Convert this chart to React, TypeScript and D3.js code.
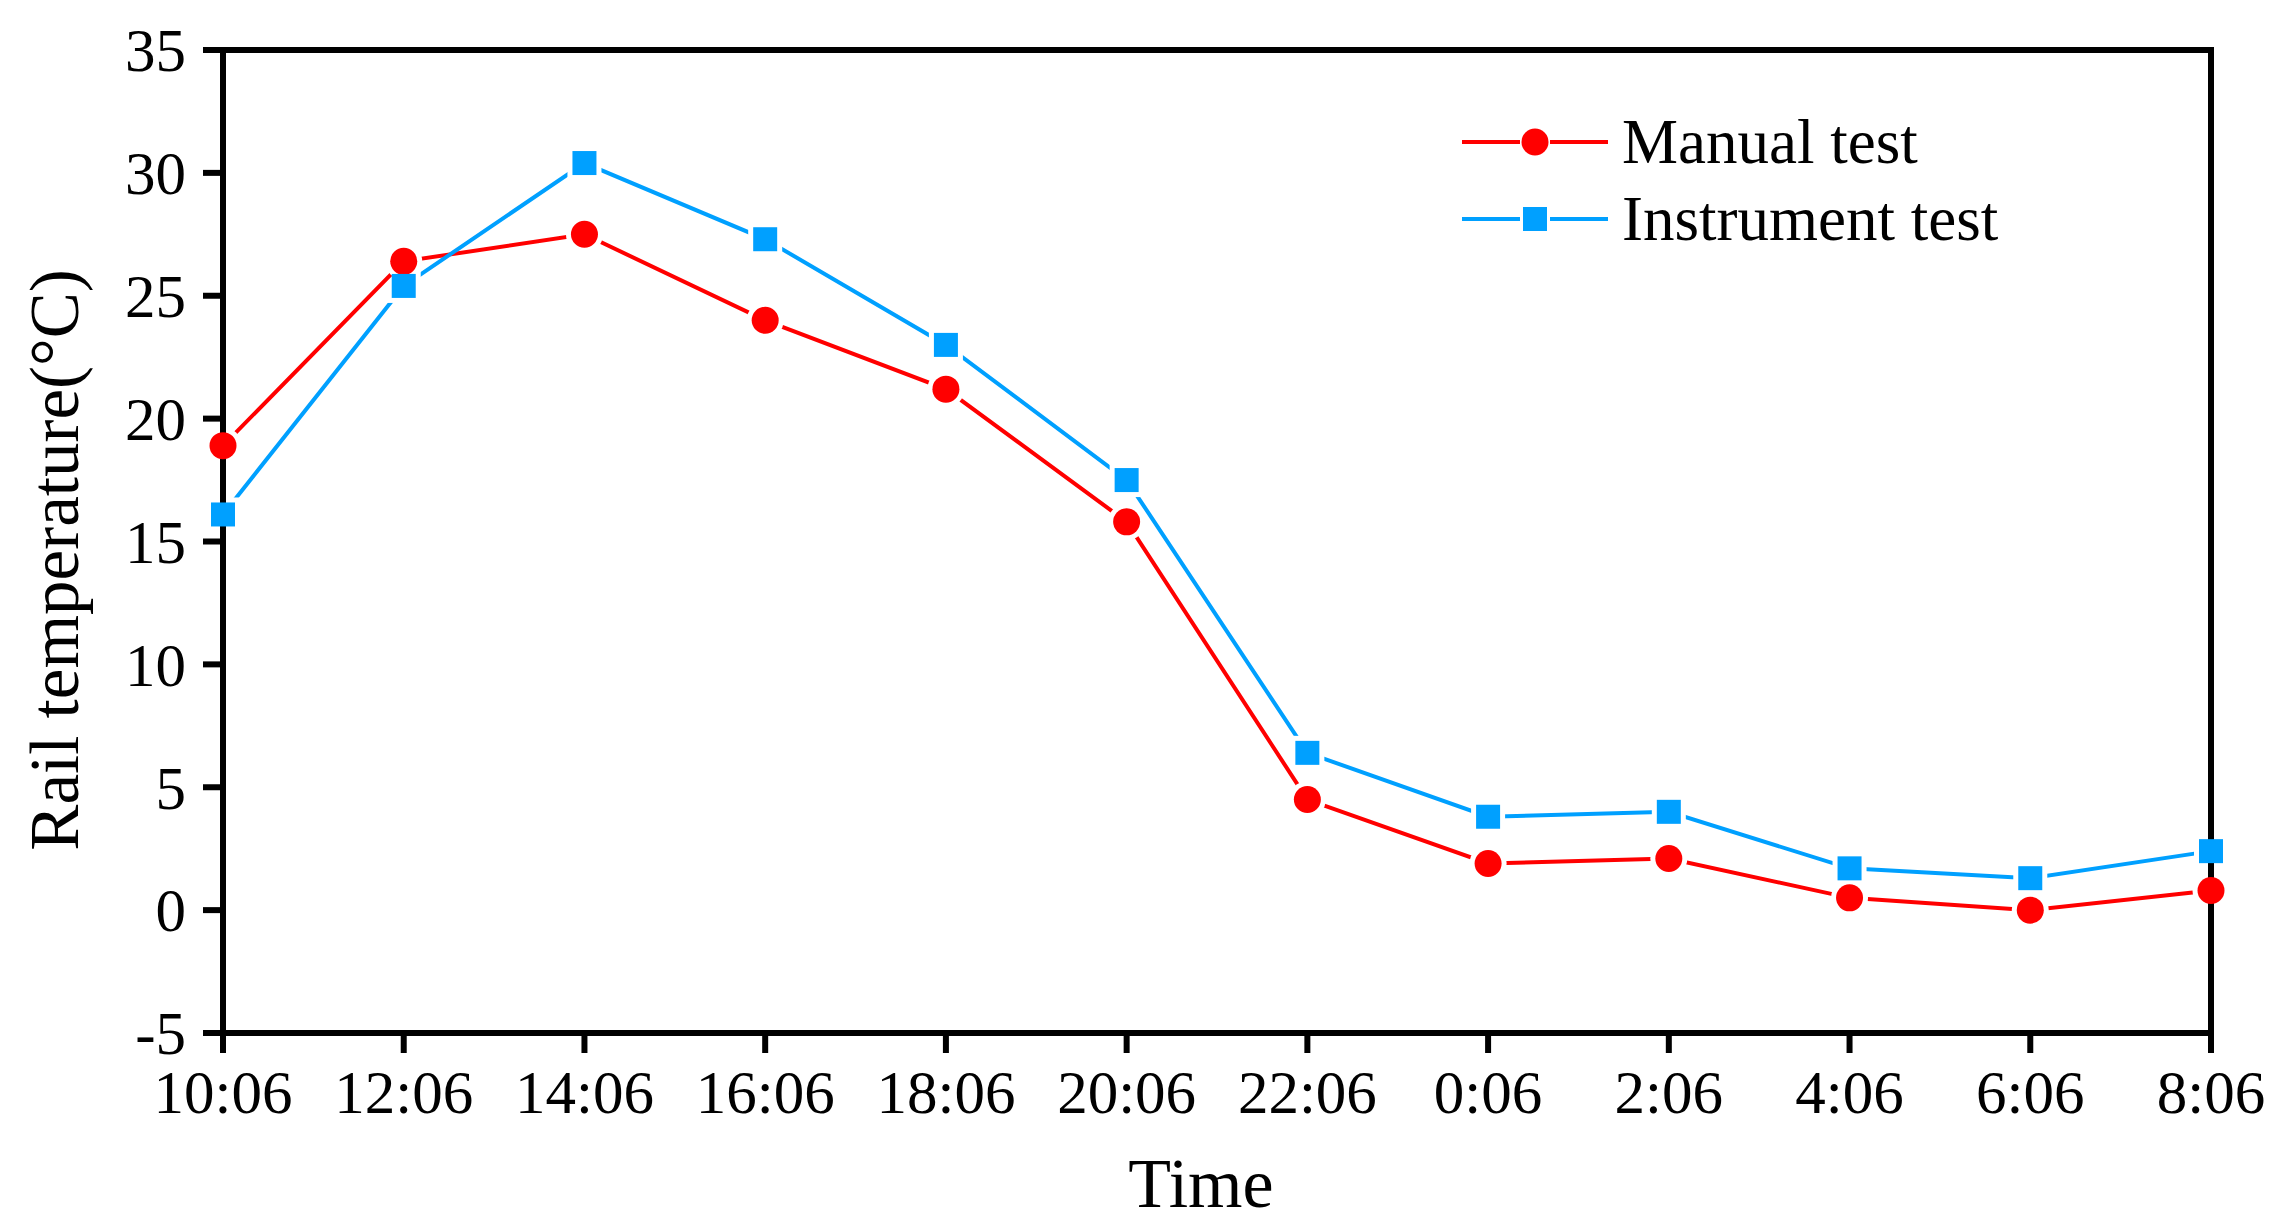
import React from 'react';
import * as d3 from 'd3';

const times = ['10:06', '12:06', '14:06', '16:06', '18:06', '20:06', '22:06', '0:06', '2:06', '4:06', '6:06', '8:06'];
const manualTest = [18.9, 26.4, 27.5, 24.0, 21.2, 15.8, 4.5, 1.9, 2.1, 0.5, 0.0, 0.8];
const instrumentTest = [16.1, 25.4, 30.4, 27.3, 23.0, 17.5, 6.4, 3.8, 4.0, 1.7, 1.3, 2.4];
const yTicks = [-5, 0, 5, 10, 15, 20, 25, 30, 35];

const width = 2284;
const height = 1232;
const margin = { top: 50, right: 73, bottom: 199, left: 223 };
const innerWidth = width - margin.left - margin.right;
const innerHeight = height - margin.top - margin.bottom;

const font = '"Liberation Serif", "Times New Roman", serif';
const red = '#ff0000';
const blue = '#00a0ff';
const axisW = 6;
const lineW = 4;
const gap = 5;

const App = () => {
  const x = d3.scalePoint<string>().domain(times).range([0, innerWidth]);
  const y = d3.scaleLinear().domain([-5, 35]).range([innerHeight, 0]);

  const line = d3.line<number>()
    .x((d, i) => x(times[i]) as number)
    .y(d => y(d));

  const series = [
    { id: 'manual', name: 'Manual test', values: manualTest, color: red, shape: 'circle' },
    { id: 'instr', name: 'Instrument test', values: instrumentTest, color: blue, shape: 'square' },
  ];

  const shapeAt = (shape: string, cx: number, cy: number, color: string, pad: number, key: string | number) =>
    shape === 'circle'
      ? <circle key={key} cx={cx} cy={cy} r={13.5 + pad} fill={color} />
      : <rect key={key} x={cx - 12 - pad} y={cy - 12 - pad} width={24 + 2 * pad} height={24 + 2 * pad} fill={color} />;

  return (
    <div style={{ position: 'absolute', left: 0, top: 0 }}>
      <svg width={width} height={height} style={{ display: 'block', background: '#fff' }} fontFamily={font}>
        <defs>
          {series.map(s => (
            <mask key={s.id} id={`mask-${s.id}`} maskUnits='userSpaceOnUse' x={-margin.left} y={-margin.top} width={width} height={height}>
              <rect x={-margin.left} y={-margin.top} width={width} height={height} fill='#fff' />
              {s.values.map((v, i) => shapeAt(s.shape, x(times[i]) as number, y(v), '#000', gap, i))}
            </mask>
          ))}
        </defs>
        <g transform={`translate(${margin.left}, ${margin.top})`}>
          {/* Frame */}
          <rect x={0} y={0} width={innerWidth} height={innerHeight} fill='none' stroke='#000' strokeWidth={axisW} />

          {/* Y axis */}
          {yTicks.map(t => (
            <g key={t} transform={`translate(0, ${y(t)})`}>
              <line x1={-20} x2={0} stroke='#000' strokeWidth={axisW} />
              <text x={-37} dy='0.35em' textAnchor='end' fontSize={61}>{t}</text>
            </g>
          ))}

          {/* X axis */}
          {times.map(t => (
            <g key={t} transform={`translate(${x(t)}, ${innerHeight})`}>
              <line y1={0} y2={20} stroke='#000' strokeWidth={axisW} />
              <text y={80} textAnchor='middle' fontSize={61}>{t}</text>
            </g>
          ))}

          {/* Lines */}
          {series.map(s => (
            <path key={s.id} d={line(s.values) || ''} fill='none' stroke={s.color} strokeWidth={lineW} mask={`url(#mask-${s.id})`} />
          ))}
          {/* Markers */}
          {series.map(s => (
            <g key={s.id + '-m'}>
              {s.values.map((v, i) => shapeAt(s.shape, x(times[i]) as number, y(v), s.color, 0, i))}
            </g>
          ))}

          <text x={innerWidth / 2 - 16} y={innerHeight + 174} textAnchor='middle' fontSize={70}>Time</text>
          <text transform={`translate(${78 - margin.left}, ${560 - margin.top}) rotate(-90)`} textAnchor='middle' fontSize={69}>
            Rail temperature(°C)
          </text>

          {/* Legend */}
          {series.map((s, i) => (
            <g key={s.id + '-l'} transform={`translate(${1462 - margin.left}, ${142 + i * 77 - margin.top})`}>
              <line x1={0} x2={73 - 15} stroke={s.color} strokeWidth={lineW} />
              <line x1={73 + 15} x2={146} stroke={s.color} strokeWidth={lineW} />
              {shapeAt(s.shape, 73, 0, s.color, 0, 'lm')}
              <text x={160} y={21} fontSize={63}>{s.name}</text>
            </g>
          ))}
        </g>
      </svg>
    </div>
  );
};

export default App;
